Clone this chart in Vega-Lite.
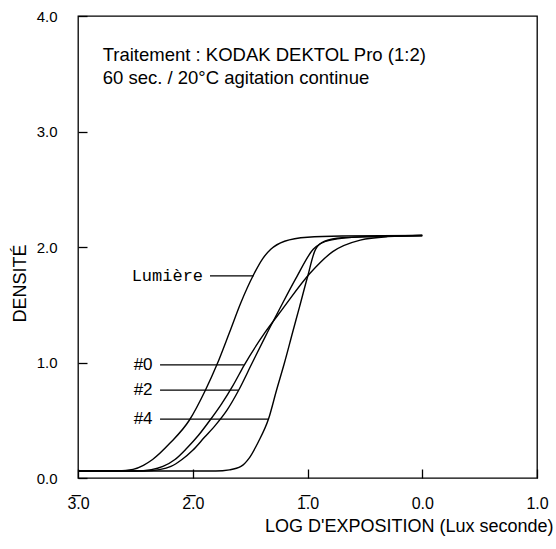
{
  "$schema": "https://vega.github.io/schema/vega-lite/v6.json",
  "width": 459,
  "height": 462,
  "autosize": {"type": "none"},
  "padding": {"left": 78, "top": 16, "right": 19, "bottom": 71},
  "background": "#ffffff",
  "config": {
    "font": "Liberation Sans",
    "view": {"stroke": "#000000", "strokeWidth": 1.3},
    "axis": {
      "grid": false,
      "domain": false,
      "tickColor": "#000000",
      "tickWidth": 1.3,
      "labelColor": "#000000",
      "titleColor": "#000000",
      "labelFont": "Liberation Sans",
      "titleFont": "Liberation Sans",
      "titleFontWeight": "normal",
      "labelFlush": false,
      "labelOverlap": false
    }
  },
  "datasets": {
    "curves": [
      {"curve": "Lumière", "logE": -3.0, "d": 0.06},
      {"curve": "Lumière", "logE": -2.65, "d": 0.062},
      {"curve": "Lumière", "logE": -2.52, "d": 0.075},
      {"curve": "Lumière", "logE": -2.43, "d": 0.11},
      {"curve": "Lumière", "logE": -2.35, "d": 0.16},
      {"curve": "Lumière", "logE": -2.2, "d": 0.3},
      {"curve": "Lumière", "logE": -2.03, "d": 0.5},
      {"curve": "Lumière", "logE": -1.89, "d": 0.76},
      {"curve": "Lumière", "logE": -1.79, "d": 0.98},
      {"curve": "Lumière", "logE": -1.68, "d": 1.26},
      {"curve": "Lumière", "logE": -1.58, "d": 1.52},
      {"curve": "Lumière", "logE": -1.47, "d": 1.76},
      {"curve": "Lumière", "logE": -1.39, "d": 1.9},
      {"curve": "Lumière", "logE": -1.32, "d": 1.98},
      {"curve": "Lumière", "logE": -1.2, "d": 2.05},
      {"curve": "Lumière", "logE": -1.0, "d": 2.085},
      {"curve": "Lumière", "logE": -0.7, "d": 2.095},
      {"curve": "Lumière", "logE": 0.0, "d": 2.1},
      {"curve": "#0", "logE": -3.0, "d": 0.06},
      {"curve": "#0", "logE": -2.5, "d": 0.06},
      {"curve": "#0", "logE": -2.36, "d": 0.072},
      {"curve": "#0", "logE": -2.26, "d": 0.1},
      {"curve": "#0", "logE": -2.155, "d": 0.16},
      {"curve": "#0", "logE": -2.05, "d": 0.26},
      {"curve": "#0", "logE": -1.95, "d": 0.37},
      {"curve": "#0", "logE": -1.85, "d": 0.5},
      {"curve": "#0", "logE": -1.75, "d": 0.64},
      {"curve": "#0", "logE": -1.65, "d": 0.8},
      {"curve": "#0", "logE": -1.55, "d": 0.98},
      {"curve": "#0", "logE": -1.37, "d": 1.26},
      {"curve": "#0", "logE": -1.22, "d": 1.46},
      {"curve": "#0", "logE": -0.98, "d": 1.77},
      {"curve": "#0", "logE": -0.78, "d": 1.96},
      {"curve": "#0", "logE": -0.54, "d": 2.06},
      {"curve": "#0", "logE": -0.3, "d": 2.09},
      {"curve": "#0", "logE": 0.0, "d": 2.1},
      {"curve": "#2", "logE": -3.0, "d": 0.06},
      {"curve": "#2", "logE": -2.42, "d": 0.06},
      {"curve": "#2", "logE": -2.29, "d": 0.072},
      {"curve": "#2", "logE": -2.19, "d": 0.1},
      {"curve": "#2", "logE": -2.094, "d": 0.16},
      {"curve": "#2", "logE": -2.0, "d": 0.24},
      {"curve": "#2", "logE": -1.9, "d": 0.35},
      {"curve": "#2", "logE": -1.8, "d": 0.46},
      {"curve": "#2", "logE": -1.7, "d": 0.59},
      {"curve": "#2", "logE": -1.6, "d": 0.76},
      {"curve": "#2", "logE": -1.49, "d": 0.98},
      {"curve": "#2", "logE": -1.37, "d": 1.22},
      {"curve": "#2", "logE": -1.25, "d": 1.45},
      {"curve": "#2", "logE": -1.1, "d": 1.73},
      {"curve": "#2", "logE": -0.95, "d": 1.98},
      {"curve": "#2", "logE": -0.8, "d": 2.06},
      {"curve": "#2", "logE": -0.5, "d": 2.09},
      {"curve": "#2", "logE": 0.0, "d": 2.1},
      {"curve": "#4", "logE": -3.0, "d": 0.06},
      {"curve": "#4", "logE": -1.8, "d": 0.06},
      {"curve": "#4", "logE": -1.68, "d": 0.07},
      {"curve": "#4", "logE": -1.58, "d": 0.1},
      {"curve": "#4", "logE": -1.51, "d": 0.17},
      {"curve": "#4", "logE": -1.43, "d": 0.31},
      {"curve": "#4", "logE": -1.34, "d": 0.51},
      {"curve": "#4", "logE": -1.27, "d": 0.76},
      {"curve": "#4", "logE": -1.2, "d": 1.0},
      {"curve": "#4", "logE": -1.13, "d": 1.26},
      {"curve": "#4", "logE": -1.07, "d": 1.48},
      {"curve": "#4", "logE": -1.0, "d": 1.74},
      {"curve": "#4", "logE": -0.93, "d": 1.98},
      {"curve": "#4", "logE": -0.85, "d": 2.05},
      {"curve": "#4", "logE": -0.7, "d": 2.08},
      {"curve": "#4", "logE": -0.4, "d": 2.09},
      {"curve": "#4", "logE": 0.0, "d": 2.1}
    ],
    "leaders": [
      {"label": "Lumière", "kind": "paper", "textX": -1.91, "x1": -1.85, "x2": -1.47, "d": 1.75},
      {"label": "#0", "kind": "filter", "textX": -2.35, "x1": -2.285, "x2": -1.555, "d": 0.98},
      {"label": "#2", "kind": "filter", "textX": -2.35, "x1": -2.285, "x2": -1.6, "d": 0.76},
      {"label": "#4", "kind": "filter", "textX": -2.35, "x1": -2.285, "x2": -1.34, "d": 0.51}
    ],
    "notes": [
      {"text": "Traitement : KODAK DEKTOL Pro (1:2)", "x": -2.785, "d": 3.61},
      {"text": "60 sec. / 20°C agitation continue", "x": -2.785, "d": 3.41}
    ]
  },
  "layer": [
    {
      "data": {"name": "curves"},
      "mark": {"type": "line", "interpolate": "monotone", "color": "#000000", "strokeWidth": 1.4},
      "encoding": {
        "x": {
          "field": "logE",
          "type": "quantitative",
          "scale": {"domain": [-3, 1], "nice": false, "zero": false},
          "axis": {
            "values": [-3, -2, -1, 0, 1],
            "labelExpr": "datum.value == -3 ? '3\u0305.0' : datum.value == -2 ? '2\u0305.0' : datum.value == -1 ? '1\u0305.0' : datum.value == 0 ? '0.0' : '1.0'",
            "offset": -9,
            "tickSize": 9,
            "labelPadding": 17,
            "labelFontSize": 16,
            "title": "LOG D'EXPOSITION (Lux seconde)",
            "titleFontSize": 18,
            "titleX": 475,
            "titleY": 57,
            "titleAlign": "right",
            "titleBaseline": "middle",
            "titleAnchor": null
          }
        },
        "y": {
          "field": "d",
          "type": "quantitative",
          "scale": {"domain": [0, 4], "nice": false},
          "axis": {
            "values": [0, 1, 2, 3, 4],
            "format": ".1f",
            "offset": -9,
            "tickSize": 9,
            "labelPadding": 21,
            "labelFontSize": 15,
            "title": "DENSITÉ",
            "titleFontSize": 18,
            "titleAngle": -90,
            "titleX": -67,
            "titleY": 267,
            "titleAlign": "center",
            "titleBaseline": "middle"
          }
        },
        "detail": {"field": "curve", "type": "nominal"}
      }
    },
    {
      "data": {"name": "leaders"},
      "mark": {"type": "rule", "color": "#000000", "strokeWidth": 1.3},
      "encoding": {
        "x": {"field": "x1", "type": "quantitative"},
        "x2": {"field": "x2"},
        "y": {"field": "d", "type": "quantitative"}
      }
    },
    {
      "data": {"name": "leaders"},
      "transform": [{"filter": "datum.kind == 'filter'"}],
      "mark": {"type": "text", "align": "right", "baseline": "middle", "font": "Liberation Sans", "fontSize": 17, "color": "#000000"},
      "encoding": {
        "x": {"field": "textX", "type": "quantitative"},
        "y": {"field": "d", "type": "quantitative"},
        "text": {"field": "label"}
      }
    },
    {
      "data": {"name": "leaders"},
      "transform": [{"filter": "datum.kind == 'paper'"}],
      "mark": {"type": "text", "align": "right", "baseline": "middle", "font": "Liberation Mono", "fontSize": 17, "color": "#000000"},
      "encoding": {
        "x": {"field": "textX", "type": "quantitative"},
        "y": {"field": "d", "type": "quantitative"},
        "text": {"field": "label"}
      }
    },
    {
      "data": {"name": "notes"},
      "mark": {"type": "text", "align": "left", "baseline": "alphabetic", "font": "Liberation Sans", "fontSize": 18.5, "color": "#000000"},
      "encoding": {
        "x": {"field": "x", "type": "quantitative"},
        "y": {"field": "d", "type": "quantitative"},
        "text": {"field": "text"}
      }
    }
  ]
}
